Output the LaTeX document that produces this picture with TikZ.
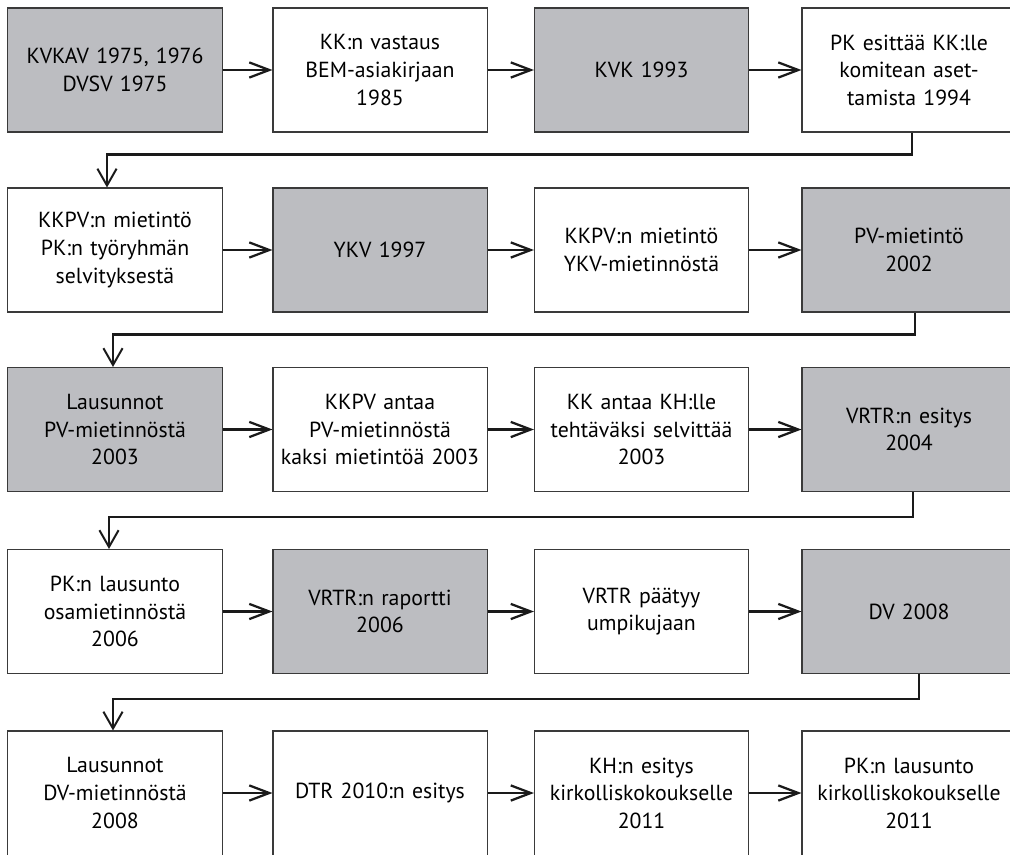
\documentclass[tikz,border=0pt]{standalone}
\usepackage{fontspec}
\setmainfont{PT Sans}
\usepackage[HTML]{xcolor}
\usetikzlibrary{positioning, arrows.meta}
\definecolor{boxgray}{HTML}{BCBDC1}
\definecolor{edge}{HTML}{3A3A3A}

\begin{document}
\begin{tikzpicture}[x=0.025cm, y=-0.025cm,
  every node/.style={font=\fontsize{15.5}{19.6}\selectfont},
  box/.style={draw=edge, line width=0.75pt, fill=white, minimum width=5.35cm, minimum height=3.1cm, text width=5.3cm, align=center, inner sep=0pt},
  grey/.style={box, fill=boxgray},
  link/.style={-{Straight Barb[length=0.5cm, width=0.38cm, line width=1.6pt]}, line width=1.6pt, black!90},
  turn/.style={-{Straight Barb[length=0.42cm, width=0.48cm, line width=1.4pt]}, line width=1.6pt, black!90}]
\useasboundingbox (0,0) rectangle (1010,854);
% rivi 1
\node[grey] (a1) at (115,70) {KVKAV 1975, 1976\\DVSV 1975};
\node[box] (a2) at (380,70) {KK:n vastaus\\BEM-asiakirjaan\\1985};
\node[grey] (a3) at (641.5,70) {KVK 1993};
\node[box] (a4) at (909,70) {PK esittää KK:lle\\komitean aset-\\tamista 1994};
% rivi 2
\node[box] (b1) at (115,250) {KKPV:n mietintö\\PK:n työryhmän\\selvityksestä};
\node[grey] (b2) at (380,250) {YKV 1997};
\node[box] (b3) at (641.5,250) {KKPV:n mietintö\\YKV-mietinnöstä};
\node[grey] (b4) at (909,250) {PV-mietintö\\2002};
% rivi 3
\node[grey] (c1) at (115,429.5) {Lausunnot\\PV-mietinnöstä\\2003};
\node[box] (c2) at (380,429.5) {KKPV antaa\\PV-mietinnöstä\\kaksi mietintöä 2003};
\node[box] (c3) at (641.5,429.5) {KK antaa KH:lle\\tehtäväksi selvittää\\2003};
\node[grey] (c4) at (909,429.5) {VRTR:n esitys\\2004};
% rivi 4
\node[box] (d1) at (115,611.5) {PK:n lausunto\\osamietinnöstä\\2006};
\node[grey] (d2) at (380,611.5) {VRTR:n raportti\\2006};
\node[box] (d3) at (641.5,611.5) {VRTR päätyy\\umpikujaan};
\node[grey] (d4) at (909,611.5) {DV 2008};
% rivi 5
\node[box] (e1) at (115,793) {Lausunnot\\DV-mietinnöstä\\2008};
\node[box] (e2) at (380,793) {DTR 2010:n esitys};
\node[box] (e3) at (641.5,793) {KH:n esitys\\kirkolliskokoukselle\\2011};
\node[box] (e4) at (909,793) {PK:n lausunto\\kirkolliskokoukselle\\2011};
% nuolet riveillä
\draw[link] (a1) -- (a2);
\draw[link] (a2) -- (a3);
\draw[link] (a3) -- (a4);
\draw[link] (b1) -- (b2);
\draw[link] (b2) -- (b3);
\draw[link] (b3) -- (b4);
\draw[link] (c1) -- (c2);
\draw[link] (c2) -- (c3);
\draw[link] (c3) -- (c4);
\draw[link] (d1) -- (d2);
\draw[link] (d2) -- (d3);
\draw[link] (d3) -- (d4);
\draw[link] (e1) -- (e2);
\draw[link] (e2) -- (e3);
\draw[link] (e3) -- (e4);
% rivinvaihdot
\draw[turn] ([xshift=0.07cm]a4.south) -- ++(0,22) -| ([xshift=-0.2cm]b1.north);
\draw[turn] ([xshift=0.15cm]b4.south) -- ++(0,22) -| ([xshift=-0.05cm]c1.north);
\draw[turn] ([xshift=0.1cm]c4.south) -- ++(0,25) -| ([xshift=-0.15cm]d1.north);
\draw[turn] ([xshift=0.25cm]d4.south) -- ++(0,25) -| ([xshift=-0.05cm]e1.north);
\end{tikzpicture}
\end{document}
